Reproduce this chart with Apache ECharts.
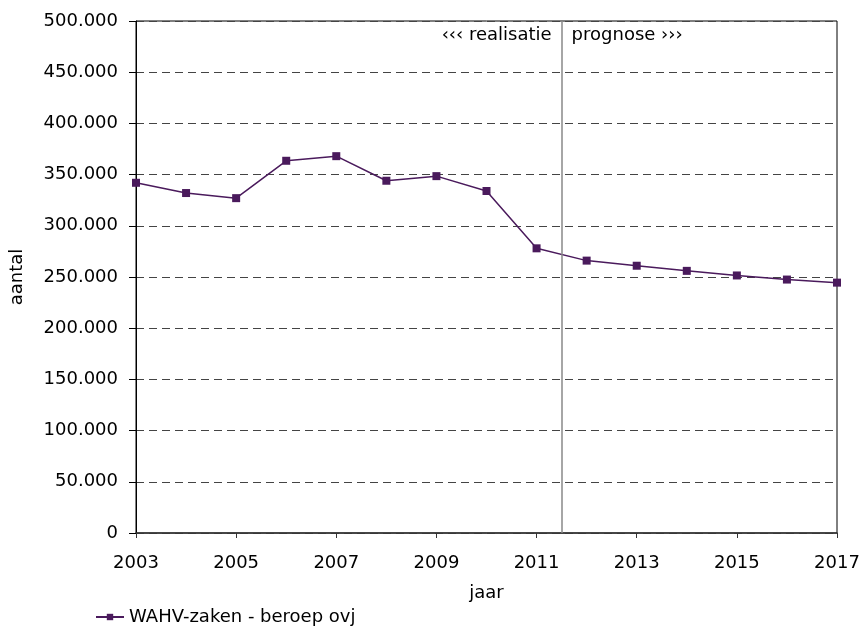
<!DOCTYPE html>
<html><head><meta charset="utf-8">
<script src="https://cdn.jsdelivr.net/npm/echarts@6/dist/echarts.min.js"></script>
<style>html,body{margin:0;padding:0;background:#fff}#c{width:863px;height:629px}</style>
</head><body><div id="c"></div>
<script>
const years = [2003,2004,2005,2006,2007,2008,2009,2010,2011,2012,2013,2014,2015,2016,2017];
const values = [342000,332000,327000,363500,368000,344000,348500,334000,278000,266000,261000,256000,251500,247500,244500];
const seriesName = 'WAHV-zaken - beroep ovj';
const splitYear = 2011.5;
const leftLabel = '‹‹‹ realisatie';
const rightLabel = 'prognose ›››';

const fmt = v => v === 0 ? '0' : String(v).replace(/\B(?=(\d{3})+(?!\d))/g, '.');
const font = 'DejaVu Sans, Verdana, sans-serif';
const fs = 18;
const chart = echarts.init(document.getElementById('c'));
chart.setOption({
  animation: false,
  textStyle: {fontFamily: font},
  grid: {left: 134, right: 26, top: 21, bottom: 96, show: true, borderColor: '#000', borderWidth: 1, backgroundColor: 'transparent'},
  xAxis: {
    type: 'value', min: 2003, max: 2017, interval: 2,
    name: 'jaar', nameLocation: 'middle', nameGap: 51,
    nameTextStyle: {color: '#000', fontSize: fs, fontFamily: font},
    axisLine: {lineStyle: {color: '#333', width: 1.5}},
    axisTick: {show: true, inside: false, length: 5, lineStyle: {color: '#333', width: 1}},
    axisLabel: {color: '#000', fontSize: fs, margin: 21, formatter: v => String(v)},
    splitLine: {show: false}
  },
  yAxis: {
    type: 'value', min: 0, max: 500000, interval: 50000,
    name: 'aantal', nameLocation: 'middle', nameGap: 110, nameRotate: 90,
    nameTextStyle: {color: '#000', fontSize: fs, fontFamily: font},
    axisLine: {show: true, lineStyle: {color: '#000', width: 1}},
    axisTick: {show: true, length: 7, lineStyle: {color: '#000', width: 1}},
    axisLabel: {color: '#000', fontSize: fs, margin: 18, formatter: fmt},
    splitLine: {show: true, lineStyle: {color: '#444', type: [8, 5], width: 1}}
  },
  legend: {
    left: 90, top: 603, itemWidth: 28, itemHeight: 8, itemGap: 5,
    textStyle: {color: '#000', fontSize: fs, fontFamily: font},
    data: [{name: seriesName}]
  },
  series: [{
    name: seriesName, type: 'line',
    data: years.map((y, i) => [y, values[i]]),
    symbol: 'rect', symbolSize: 8,
    lineStyle: {color: '#4a1a5c', width: 1.5},
    itemStyle: {color: '#4a1a5c'},
    markLine: {
      silent: true, symbol: 'none',
      lineStyle: {color: '#888', width: 1.5, type: 'solid'},
      label: {show: false},
      data: [{xAxis: splitYear}]
    }
  }],
  graphic: []
});
const pTop = chart.convertToPixel({gridIndex: 0}, [splitYear, 500000]);
chart.setOption({graphic: [
  {type: 'text', x: pTop[0] - 10, y: pTop[1] + 14, style: {text: leftLabel, align: 'right', verticalAlign: 'middle', fill: '#000', font: fs + 'px ' + font}},
  {type: 'text', x: pTop[0] + 10, y: pTop[1] + 14, style: {text: rightLabel, align: 'left', verticalAlign: 'middle', fill: '#000', font: fs + 'px ' + font}}
]});
</script></body></html>
